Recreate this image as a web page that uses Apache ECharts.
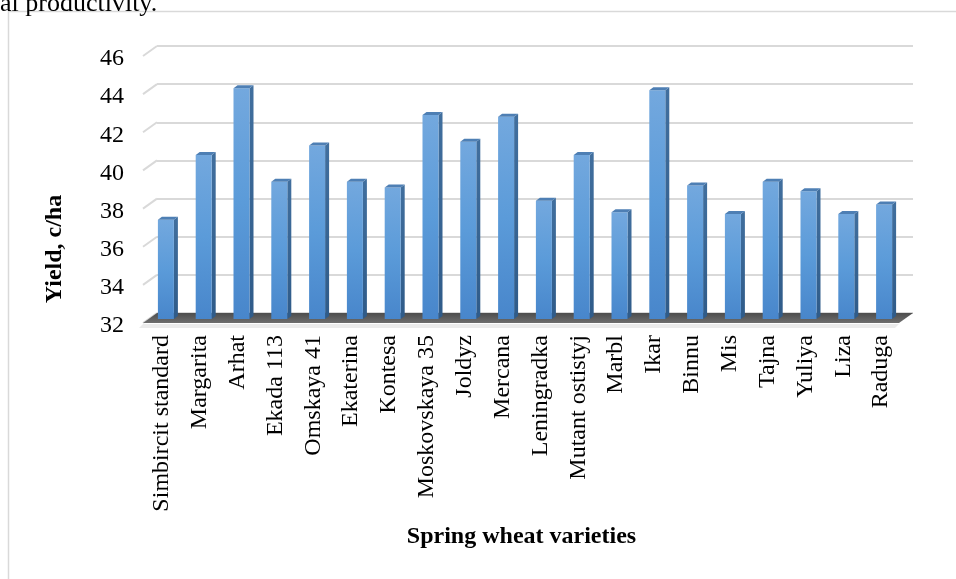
<!DOCTYPE html>
<html>
<head>
<meta charset="utf-8">
<script src="https://cdn.jsdelivr.net/npm/echarts@6/dist/echarts.min.js"></script>
<style>html,body{margin:0;padding:0;background:#fff;}#chart{width:956px;height:579px;}</style>
</head>
<body>
<div id="chart"></div>
<script>
var categories = ["Simbircit standard","Margarita","Arhat","Ekada 113","Omskaya 41","Ekaterina","Kontesa","Moskovskaya 35","Joldyz","Mercana","Leningradka","Mutant ostistyj","Marbl","Ikar","Binnu","Mis","Tajna","Yuliya","Liza","Raduga"];
var yieldValues = [37.2,40.6,44.1,39.2,41.1,39.2,38.9,42.7,41.3,42.6,38.2,40.6,37.6,44.0,39.0,37.5,39.2,38.7,37.5,38.0];
var yTicks = [32,34,36,38,40,42,44,46];
var yMin = 32, yMax = 46, yStep = 2;

var FONT = '"Liberation Serif", "Times New Roman", serif';
var DEPTH_X = -14, DEPTH_Y = 10;

var chart = echarts.init(document.getElementById('chart'), null, {renderer: 'canvas'});

var barData = yieldValues.map(function (v, i) { return [i, v]; });

var option = {
  animation: false,
  backgroundColor: '#ffffff',
  graphic: [
    {type: 'rect', shape: {x: 8.5, y: 11.5, width: 1000, height: 1000}, style: {fill: 'none', stroke: '#d9d9d9', lineWidth: 1.5}, silent: true},
    {type: 'text', x: 0, y: 17, style: {text: 'al productivity.', fontSize: 26, fontFamily: FONT, fill: '#000', verticalAlign: 'bottom'}, silent: true},
    {type: 'text', x: 55, y: 249, rotation: Math.PI / 2, style: {text: 'Yield, c/ha', fontSize: 24, fontWeight: 'bold', fontFamily: FONT, fill: '#000', align: 'center', verticalAlign: 'middle'}, silent: true}
  ],
  grid: [
    {left: 157, right: 43, top: 46, bottom: 266},
    {left: 143, right: 56, top: 59, bottom: 253}
  ],
  xAxis: [
    {type: 'category', gridIndex: 0, data: categories, axisLine: {show: false}, axisTick: {show: false}, axisLabel: {show: false}},
    {type: 'category', gridIndex: 1, data: categories, axisLine: {show: false}, axisTick: {show: false},
     axisLabel: {rotate: 90, fontSize: 24, fontFamily: FONT, color: '#000', margin: 9, interval: 0},
     name: 'Spring wheat varieties', nameLocation: 'middle', nameGap: 211,
     nameTextStyle: {fontSize: 24, fontWeight: 'bold', fontFamily: FONT, color: '#000', verticalAlign: 'middle'}}
  ],
  yAxis: [
    {type: 'value', gridIndex: 0, min: yMin, max: yMax, interval: yStep, axisLine: {show: false}, axisTick: {show: false}, axisLabel: {show: false},
     splitLine: {show: true, lineStyle: {color: '#d9d9d9', width: 2}}},
    {type: 'value', gridIndex: 1, min: yMin, max: yMax, interval: yStep, axisLine: {show: false}, axisTick: {show: false},
     axisLabel: {fontSize: 24, fontFamily: FONT, color: '#000', margin: 19}, splitLine: {show: false}}
  ],
  series: [
    {
      type: 'custom', xAxisIndex: 0, yAxisIndex: 0, z: 1, silent: true,
      data: yTicks.map(function (t) { return [0, t]; }),
      renderItem: function (params, api) {
        var cs = params.coordSys;
        var y = api.coord([0, api.value(1)])[1];
        return {type: 'line', shape: {x1: cs.x, y1: y, x2: cs.x + DEPTH_X, y2: y + DEPTH_Y},
                style: {stroke: '#d9d9d9', lineWidth: 2}};
      }
    },
    {
      type: 'custom', xAxisIndex: 0, yAxisIndex: 0, z: 2, silent: true,
      data: [[0, yMin]],
      renderItem: function (params, api) {
        var cs = params.coordSys;
        var y = api.coord([0, yMin])[1];
        var x0 = cs.x, x1 = cs.x + cs.width;
        return {type: 'group', children: [
          {type: 'polygon', shape: {points: [[x0 + DEPTH_X, y + DEPTH_Y + 1], [x1 + DEPTH_X, y + DEPTH_Y + 1], [x1 + DEPTH_X - 4, y + DEPTH_Y + 5], [x0 + DEPTH_X - 4, y + DEPTH_Y + 5]]},
           style: {fill: 'rgba(0,0,0,0.08)'}},
          {type: 'polygon', shape: {points: [[x0, y], [x1, y], [x1 + DEPTH_X, y + DEPTH_Y], [x0 + DEPTH_X, y + DEPTH_Y]]},
           style: {fill: new echarts.graphic.LinearGradient(0, 0, 0, 1, [{offset: 0, color: '#4d4d4d'}, {offset: 1, color: '#6e6e6e'}])}}
        ]};
      }
    },
    {
      type: 'custom', xAxisIndex: 0, yAxisIndex: 0, z: 3, silent: true,
      data: barData,
      renderItem: function (params, api) {
        var idx = api.value(0);
        var top = api.coord([idx, api.value(1)]);
        var base = api.coord([idx, yMin]);
        var cx = top[0];
        var fx0 = cx - 18, fx1 = cx - 2;
        var ty = top[1] + 6, by = base[1] + 6;
        var dx = 4, dy = -3;
        return {type: 'group', children: [
          {type: 'polygon', shape: {points: [[fx1, ty], [fx1 + dx, ty + dy], [fx1 + dx, by + dy], [fx1, by]]},
           style: {fill: new echarts.graphic.LinearGradient(0, 0, 0, 1, [{offset: 0, color: '#416f9e'}, {offset: 1, color: '#2f5b89'}])}},
          {type: 'rect', shape: {x: fx0, y: ty, width: fx1 - fx0, height: by - ty},
           style: {fill: new echarts.graphic.LinearGradient(0, 0, 0, 1, [{offset: 0, color: '#73a8de'}, {offset: 0.5, color: '#5b9bd9'}, {offset: 1, color: '#4886cb'}])}},
          {type: 'polygon', shape: {points: [[fx0, ty], [fx0 + dx, ty + dy], [fx1 + dx, ty + dy], [fx1, ty]]},
           style: {fill: '#4e7fb4'}}
        ]};
      }
    }
  ]
};
chart.setOption(option);
</script>
</body>
</html>
